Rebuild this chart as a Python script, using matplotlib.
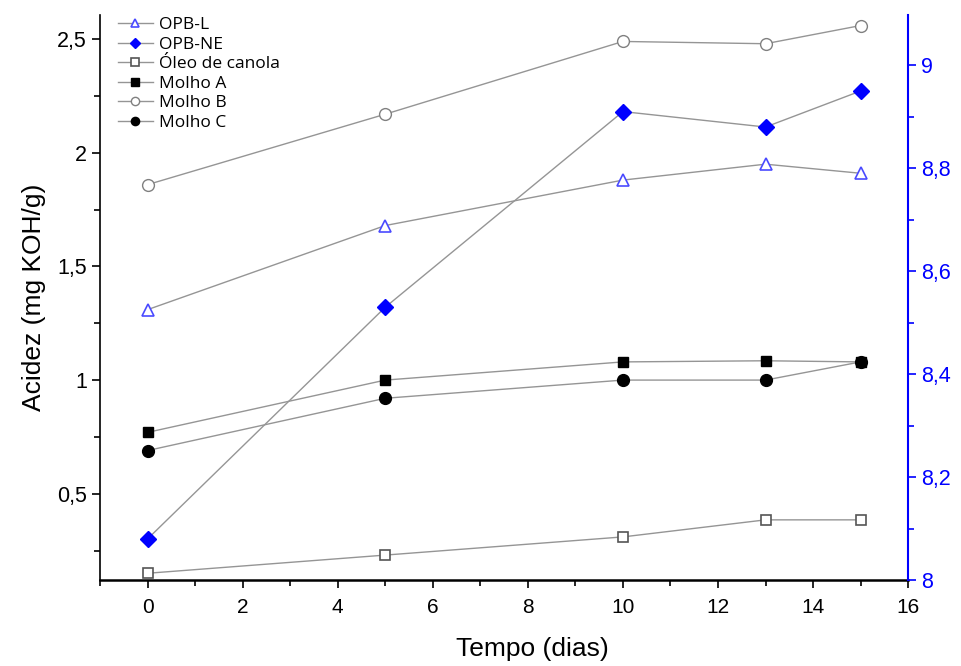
import numpy as np
import matplotlib
matplotlib.use("Agg")
import matplotlib.pyplot as plt
from matplotlib.ticker import MultipleLocator, FuncFormatter

# dados
tempo = [0, 5, 10, 13, 15]
opb_l = [1.31, 1.68, 1.88, 1.95, 1.91]
opb_ne = [8.08, 8.53, 8.91, 8.88, 8.95]   # eixo da direita
oleo_canola = [0.15, 0.23, 0.31, 0.385, 0.385]
molho_a = [0.77, 1.00, 1.08, 1.085, 1.08]
molho_b = [1.86, 2.17, 2.49, 2.48, 2.56]
molho_c = [0.69, 0.92, 1.00, 1.00, 1.08]

line_col = "#959595"
blue = "#0000ff"

def virgula(v, pos):
    return "{:g}".format(round(v, 3)).replace(".", ",")

fig = plt.figure(figsize=(9.62, 6.66), dpi=100)
ax = fig.add_axes([0.104, 0.129, 0.84, 0.848])
ax2 = ax.twinx()

h1, = ax.plot(tempo, opb_l, "-", color=line_col, lw=1, marker="^", ms=9,
              mfc="white", mec="#4a4aff", mew=1.2, label="OPB-L")
h3, = ax.plot(tempo, oleo_canola, "-", color=line_col, lw=1, marker="s", ms=7.5,
              mfc="white", mec="#555555", mew=1.2, label="Óleo de canola")
h4, = ax.plot(tempo, molho_a, "-", color=line_col, lw=1, marker="s", ms=7.5,
              mfc="black", mec="black", label="Molho A")
h5, = ax.plot(tempo, molho_b, "-", color=line_col, lw=1, marker="o", ms=8.5,
              mfc="white", mec="#808080", mew=1.0, label="Molho B")
h6, = ax.plot(tempo, molho_c, "-", color=line_col, lw=1, marker="o", ms=8.5,
              mfc="black", mec="black", label="Molho C")
h2, = ax2.plot(tempo, opb_ne, "-", color=line_col, lw=1, marker="D", ms=8,
               mfc=blue, mec=blue, label="OPB-NE")

ax.set_xlim(-1, 16)
ax.set_ylim(0.12, 2.605)
ax2.set_ylim(8, 9.097)

ax.xaxis.set_major_locator(MultipleLocator(2))
ax.xaxis.set_minor_locator(MultipleLocator(1))
ax.yaxis.set_major_locator(MultipleLocator(0.5))
ax.yaxis.set_minor_locator(MultipleLocator(0.25))
ax2.yaxis.set_major_locator(MultipleLocator(0.2))
ax2.yaxis.set_minor_locator(MultipleLocator(0.1))
ax.yaxis.set_major_formatter(FuncFormatter(virgula))
ax2.yaxis.set_major_formatter(FuncFormatter(virgula))

for s in ["top", "right"]:
    ax.spines[s].set_visible(False)
for s in ["top", "left", "bottom"]:
    ax2.spines[s].set_visible(False)
ax.spines["left"].set_linewidth(1.2)
ax.spines["bottom"].set_linewidth(1.8)
ax2.spines["right"].set_color(blue)
ax2.spines["right"].set_linewidth(1.5)

ax.tick_params(axis="both", which="major", direction="out", length=6, width=1.2)
ax.tick_params(axis="both", which="minor", direction="out", length=4, width=1.2)
ax.tick_params(axis="y", labelsize=15.5)
ax.tick_params(axis="x", labelsize=15, pad=7)
ax2.tick_params(axis="y", which="both", colors=blue, width=1.2, labelsize=15.5)
ax2.tick_params(axis="y", which="major", length=6)
ax2.tick_params(axis="y", which="minor", length=4)

for lab in ax.get_yticklabels() + ax2.get_yticklabels() + ax.get_xticklabels():
    lab.set_family(["Liberation Sans", "DejaVu Sans"])

ax.set_ylabel("Acidez (mg KOH/g)", fontsize=19, family=["Liberation Sans", "DejaVu Sans"],
              labelpad=8)
ax.set_xlabel("Tempo (dias)", fontsize=19,
              family=["Liberation Sans", "DejaVu Sans"], labelpad=16)
ax.xaxis.set_label_coords(0.535, -0.1)

leg = ax.legend(handles=[h1, h2, h3, h4, h5, h6], loc="upper left",
                bbox_to_anchor=(0.003, 1.025), frameon=False,
                handlelength=2.0, handletextpad=0.35, labelspacing=0.2,
                markerscale=0.7, prop={"family": ["Open Sans", "DejaVu Sans"], "size": 12.5})

fig.savefig("out.png", dpi=100)
